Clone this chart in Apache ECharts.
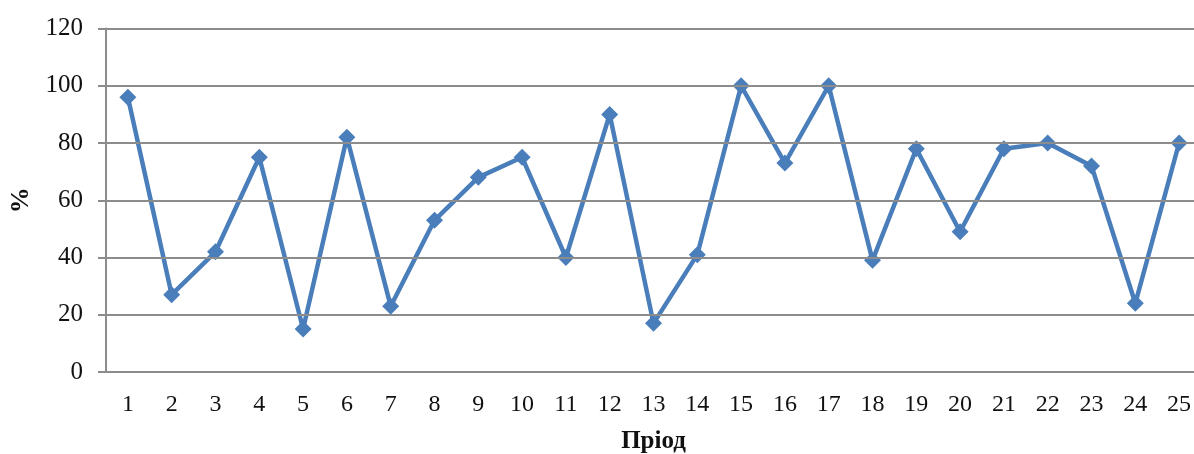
<!DOCTYPE html>
<html>
<head>
<meta charset="utf-8">
<script src="https://cdn.jsdelivr.net/npm/echarts@6/dist/echarts.min.js"></script>
<style>
  html, body { margin: 0; padding: 0; background: #fff; }
  #chart { width: 1194px; height: 454px; }
</style>
</head>
<body>
<div id="chart"></div>
<script>
// Periods 1..25 and the share (%) for each period
const periods = ['1','2','3','4','5','6','7','8','9','10','11','12','13','14','15','16','17','18','19','20','21','22','23','24','25'];
const percent = [96, 27, 42, 75, 15, 82, 23, 53, 68, 75, 40, 90, 17, 41, 100, 73, 100, 39, 78, 49, 78, 80, 72, 24, 80];

const yMin = 0, yMax = 120, yStep = 20;

const chart = echarts.init(document.getElementById('chart'), null, { renderer: 'canvas' });

const serif = '"Liberation Serif", "DejaVu Serif", serif';
const gridColor = '#8c8c8c';
const lineColor = '#4a7ebb';

chart.setOption({
  animation: false,
  backgroundColor: '#ffffff',
  grid: {
    left: 106, right: -7, top: 28.5, bottom: 82,
    containLabel: false,
    outerBoundsMode: 'none'
  },
  xAxis: {
    type: 'category',
    data: periods,
    boundaryGap: true,
    name: 'Пріод',
    nameLocation: 'middle',
    nameGap: 57,
    nameTextStyle: { fontFamily: serif, fontSize: 25, fontWeight: 'bold', color: '#111' },
    axisLine: { show: true, lineStyle: { color: gridColor, width: 2 } },
    axisTick: { show: false },
    axisLabel: { fontFamily: serif, fontSize: 24, color: '#111', margin: 21, interval: 0 },
    splitLine: { show: false },
    z: 5
  },
  yAxis: {
    type: 'value',
    min: yMin,
    max: yMax,
    interval: yStep,
    name: '%',
    nameLocation: 'middle',
    nameRotate: 90,
    nameGap: 72,
    nameTextStyle: { fontFamily: serif, fontSize: 26, fontWeight: 'bold', color: '#111' },
    axisLine: { show: true, lineStyle: { color: gridColor, width: 2 } },
    axisTick: { show: true, inside: false, length: 8, lineStyle: { color: gridColor, width: 2 } },
    axisLabel: { fontFamily: serif, fontSize: 25, color: '#111', margin: 23 },
    splitLine: { show: true, lineStyle: { color: gridColor, width: 2 } },
    z: 5
  },
  series: [{
    type: 'line',
    data: percent,
    symbol: 'diamond',
    symbolSize: 17,
    lineStyle: { color: lineColor, width: 4.5 },
    itemStyle: { color: lineColor },
    z: 2
  }]
});
</script>
</body>
</html>
